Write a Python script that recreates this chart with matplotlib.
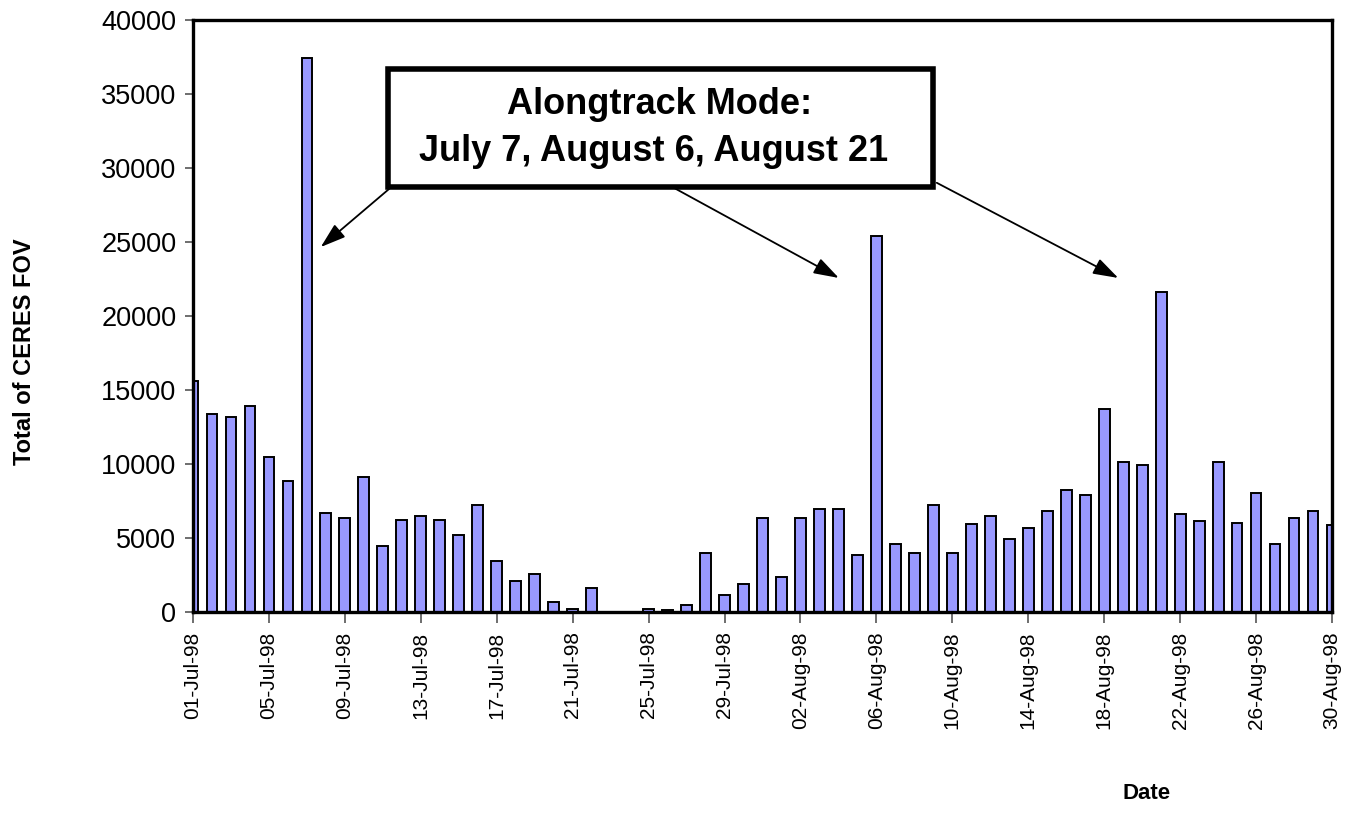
import matplotlib
matplotlib.use("Agg")
import matplotlib.pyplot as plt
import matplotlib.dates as mdates
from matplotlib.patches import Rectangle
import pandas as pd

plt.rcParams['font.family'] = ['Liberation Sans', 'DejaVu Sans']

# Daily totals of CERES fields of view, 1 July - 30 August 1998
dates = pd.date_range("1998-07-01", "1998-08-30", freq="D")
fov_totals = [
    15600, 13350, 13200, 13900, 10500, 8850, 37400, 6700, 6350, 9100,
    4480, 6220, 6490, 6240, 5180, 7210, 3420, 2120, 2590, 680,
    230, 1640, 0, 0, 230, 110, 450, 4010, 1170, 1890,
    6350, 2360, 6350, 6960, 6960, 3870, 25400, 4590, 4020, 7210,
    4010, 5920, 6510, 4950, 5680, 6850, 8270, 7900, 13690, 10140,
    9910, 21620, 6600, 6130, 10110, 6010, 8020, 4590, 6350, 6850,
    5900,
]
y_ticks = [0, 5000, 10000, 15000, 20000, 25000, 30000, 35000, 40000]
tick_dates = dates[::4]

note_title = "Alongtrack Mode:"
note_days = "July 7, August 6, August 21"
# dates and heights the arrows point at
arrow_targets = [("1998-07-08", 24660), ("1998-08-05", 22570), ("1998-08-19", 22570)]
arrow_offsets = [0.27, 0.98, 0.26]

fig = plt.figure(figsize=(13.46, 8.33), dpi=100)
ax = fig.add_axes([0.1434, 0.2653, 0.8462, 0.7107])

ax.bar(dates, fov_totals, width=0.57, color="#9999FF", edgecolor="black",
       linewidth=1.4, zorder=2)

ax.set_xlim(dates[0], dates[-1])
ax.set_ylim(0, 40000)
ax.set_yticks(y_ticks)
ax.set_yticklabels([str(v) for v in y_ticks], fontsize=19.5)
ax.set_xticks(tick_dates)
ax.set_xticklabels([d.strftime("%d-%b-%y") for d in tick_dates],
                   rotation=90, fontsize=15)
ax.tick_params(axis="y", direction="out", length=6, width=1.2,
               color="#555555", pad=6)
ax.tick_params(axis="x", direction="out", length=8, width=1.2,
               color="#555555", pad=6)

for side in ["left", "top", "right", "bottom"]:
    ax.spines[side].set_linewidth(2.4)
    ax.spines[side].set_color("black")

ax.set_ylabel("Total of CERES FOV", fontsize=17, fontweight="bold")
ax.yaxis.set_label_coords(-0.138, 0.44)
fig.text(0.852, 0.048, "Date", fontsize=16, fontweight="bold",
         ha="center", va="center")

# Annotation box with its three arrows
box = Rectangle((0.1712, 0.7179), 0.4785, 0.1993, transform=ax.transAxes,
                facecolor="white", edgecolor="black", linewidth=4, zorder=5)
ax.add_patch(box)
ax.text(0.410, 0.858, note_title, transform=ax.transAxes, fontsize=26,
        fontweight="bold", ha="center", va="center", zorder=6)
ax.text(0.404, 0.778, note_days, transform=ax.transAxes, fontsize=26,
        fontweight="bold", ha="center", va="center", zorder=6)

arrow_starts = [(0.173, 0.716), (0.416, 0.723), (0.653, 0.725)]
for (day, val), off, start in zip(arrow_targets, arrow_offsets, arrow_starts):
    tip = mdates.date2num(pd.Timestamp(day)) - off
    ax.annotate("", xy=(tip, val), xycoords="data",
                xytext=start, textcoords="axes fraction",
                arrowprops=dict(arrowstyle="-|>,head_length=0.55,head_width=0.18",
                                mutation_scale=28, color="black", lw=1.3,
                                shrinkA=0, shrinkB=0),
                zorder=4)

fig.savefig("out.png", dpi=100)
